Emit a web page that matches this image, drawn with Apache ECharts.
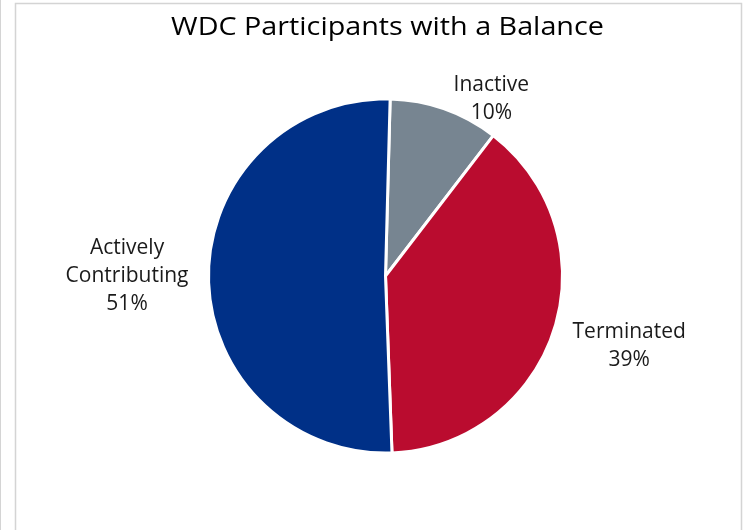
<!DOCTYPE html>
<html>
<head>
<meta charset="utf-8">
<script src="https://cdn.jsdelivr.net/npm/echarts@6/dist/echarts.min.js"></script>
<style>
html,body{margin:0;padding:0;background:#fff;}
#main{width:745px;height:530px;}
</style>
</head>
<body>
<div id="main"></div>
<script>
const titleText = 'WDC Participants with a Balance';
const categories = ['Inactive', 'Terminated', 'Actively Contributing'];
const labelTexts = ['Inactive', 'Terminated', 'Actively\nContributing'];
const values = [10, 39, 51];
const colors = ['#778591', '#BA0C2F', '#003087'];
// label nudges (style only)
const labelShift = [[0, 1], [2, 13], [-3, -1]];

const chart = echarts.init(document.getElementById('main'), null, {renderer: 'canvas'});
const total = values.reduce((a, b) => a + b, 0);
chart.setOption({
  backgroundColor: '#fff',
  animation: false,
  graphic: [
    {type: 'line', shape: {x1: 0.5, y1: 0, x2: 0.5, y2: 530}, style: {stroke: '#d4d4d4', lineWidth: 1}},
    {type: 'rect', shape: {x: 15.5, y: 3.5, width: 726, height: 540}, style: {fill: 'none', stroke: '#d4d4d4', lineWidth: 1.5}},
    {type: 'text', x: 387.5, y: 28, scaleX: 1.15, style: {text: titleText, fontFamily: 'Open Sans', fontSize: 25, fill: '#000', align: 'center', verticalAlign: 'middle'}}
  ],
  series: [{
    type: 'pie',
    center: [385.5, 276],
    radius: [0, 177],
    startAngle: 88.5,
    clockwise: true,
    avoidLabelOverlap: false,
    itemStyle: {borderColor: '#fff', borderWidth: 3},
    label: {
      show: true,
      position: 'outside',
      fontFamily: 'Open Sans',
      fontSize: 21,
      lineHeight: 28,
      color: '#1a1a1a',
      formatter: p => labelTexts[p.dataIndex] + '\n' + Math.round(p.value / total * 100) + '%'
    },
    labelLine: {show: false, length: 12, length2: 0},
    labelLayout: p => ({
      x: p.labelRect.x + p.labelRect.width / 2 + labelShift[p.dataIndex][0],
      y: p.labelRect.y + p.labelRect.height / 2 + labelShift[p.dataIndex][1],
      align: 'center',
      verticalAlign: 'middle'
    }),
    data: categories.map((c, i) => ({name: c, value: values[i], itemStyle: {color: colors[i]}}))
  }]
});
</script>
</body>
</html>
